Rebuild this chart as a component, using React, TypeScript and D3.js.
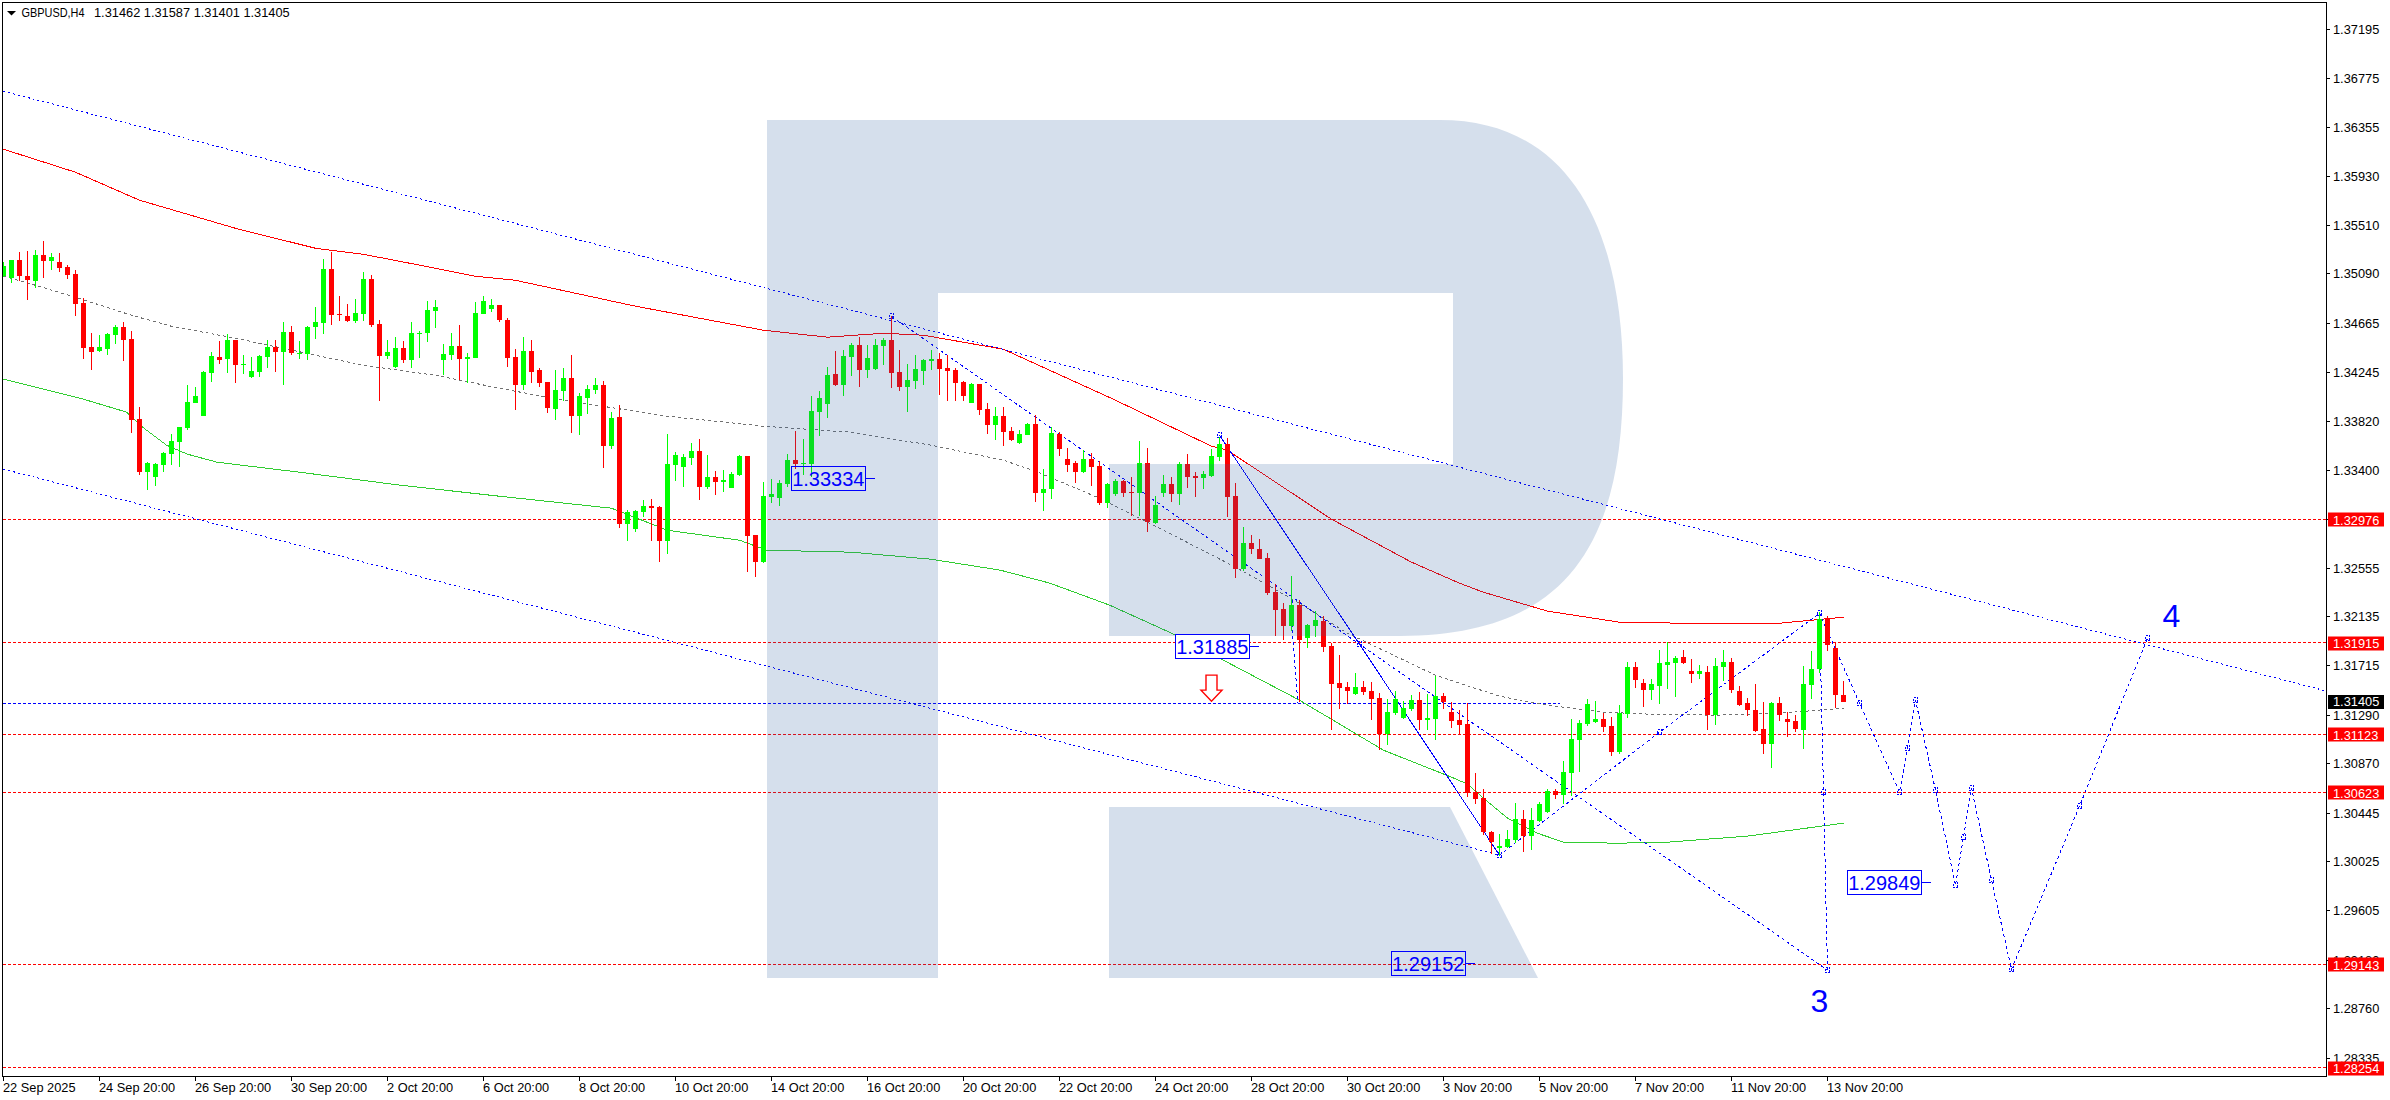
import * as d3 from "d3";

const opens = [
  1.35071,1.35059,1.35208,1.35071,1.35028,1.35251,1.35200,1.35191,1.35148,1.35088,
  1.34838,1.34459,1.34425,1.34442,1.34563,1.34632,1.34528,1.33839,1.33383,1.33340,
  1.33443,1.33538,1.33641,1.33762,1.33977,1.33865,1.34235,1.34373,1.34356,1.34520,
  1.34304,1.34201,1.34244,1.34373,1.34459,1.34416,1.34588,1.34399,1.34399,1.34632,
  1.34666,1.35131,1.34743,1.34726,1.34683,1.34743,1.35045,1.34657,1.34382,1.34287,
  1.34451,1.34347,1.34571,1.34580,1.34769,1.34347,1.34390,1.34468,1.34356,1.34365,
  1.34743,1.34787,1.34821,1.34692,1.34373,1.34132,1.34425,1.34261,1.34158,1.33925,
  1.34080,1.34192,1.33865,1.34020,1.34089,1.34132,1.33607,1.33856,1.32935,1.32892,
  1.33038,1.33090,1.33082,1.32789,1.33443,1.33426,1.33503,1.33564,1.33254,1.33340,
  1.33297,1.33245,1.33357,1.33521,1.32840,1.32608,1.33168,1.33159,1.33280,1.33486,
  1.33452,1.33452,1.33899,1.33968,1.34227,1.34132,1.34373,1.34476,1.34261,1.34270,
  1.34468,1.34519,1.34244,1.34115,1.34166,1.34252,1.34339,1.34356,1.34278,1.34261,
  1.34158,1.33977,1.34141,1.33925,1.33788,1.33864,1.33735,1.33632,1.33701,1.33795,
  1.33201,1.33236,1.33709,1.33494,1.33460,1.33382,1.33494,1.33434,1.33115,1.33193,
  1.33305,1.33210,1.33201,1.33460,1.32943,1.33201,1.33279,1.33193,1.33451,1.33348,
  1.33330,1.33348,1.33511,1.33623,1.33175,1.32547,1.32771,1.32719,1.32642,1.32349,
  1.32203,1.32056,1.32237,1.31953,1.32056,1.32099,1.31884,1.31565,1.31531,1.31471,
  1.31531,1.31496,1.31436,1.31126,1.31307,1.31264,1.31342,1.31419,1.31247,1.31255,
  1.31453,1.31316,1.31247,1.31212,1.30626,1.30575,1.30282,1.30144,1.30153,1.30213,
  1.30394,1.30248,1.30377,1.30454,1.30635,1.30601,1.30790,1.31074,1.31212,1.31229,
  1.31255,1.31195,1.30971,1.31298,1.31703,1.31565,1.31505,1.31539,1.31720,1.31737,
  1.31789,1.31668,1.31642,1.31660,1.31289,1.31703,1.31746,1.31496,1.31393,1.31332,
  1.31169,1.31040,1.31393,1.31255,1.31238,1.31160,1.31548,1.31686,1.32125,1.31866,1.31462,
];
const highs = [
  1.35191,1.35208,1.35277,1.35286,1.35294,1.35372,1.35269,1.35269,1.35165,1.35122,
  1.34881,1.34580,1.34563,1.34580,1.34649,1.34675,1.34597,1.33943,1.33469,1.33461,
  1.33555,1.33710,1.33771,1.34132,1.34115,1.34253,1.34416,1.34511,1.34571,1.34520,
  1.34390,1.34373,1.34390,1.34520,1.34520,1.34675,1.34640,1.34511,1.34640,1.34804,
  1.35217,1.35277,1.34898,1.34830,1.34873,1.35105,1.35079,1.34692,1.34520,1.34545,
  1.34511,1.34675,1.34597,1.34855,1.34864,1.34485,1.34580,1.34649,1.34408,1.34847,
  1.34898,1.34873,1.34821,1.34709,1.34442,1.34545,1.34519,1.34278,1.34158,1.34261,
  1.34278,1.34390,1.34063,1.34132,1.34192,1.34166,1.33899,1.33960,1.33056,1.33056,
  1.33142,1.33150,1.33090,1.33710,1.33555,1.33538,1.33633,1.33667,1.33529,1.33391,
  1.33400,1.33383,1.33529,1.33521,1.32840,1.33297,1.33323,1.33314,1.33538,1.33736,
  1.33667,1.34037,1.34080,1.34287,1.34425,1.34433,1.34494,1.34545,1.34476,1.34528,
  1.34537,1.34726,1.34433,1.34313,1.34390,1.34356,1.34433,1.34407,1.34390,1.34278,
  1.34166,1.34149,1.34141,1.33977,1.33943,1.33942,1.33770,1.33744,1.33804,1.33873,
  1.33408,1.33770,1.33726,1.33589,1.33477,1.33571,1.33546,1.33477,1.33287,1.33322,
  1.33313,1.33339,1.33649,1.33589,1.33175,1.33356,1.33339,1.33468,1.33537,1.33382,
  1.33391,1.33580,1.33683,1.33675,1.33287,1.32909,1.32840,1.32805,1.32685,1.32418,
  1.32254,1.32487,1.32280,1.32073,1.32185,1.32142,1.31910,1.31806,1.31574,1.31651,
  1.31583,1.31574,1.31479,1.31428,1.31496,1.31410,1.31462,1.31488,1.31471,1.31626,
  1.31479,1.31402,1.31333,1.31393,1.30790,1.30652,1.30291,1.30265,1.30299,1.30532,
  1.30471,1.30489,1.30540,1.30652,1.30652,1.30893,1.31255,1.31246,1.31427,1.31410,
  1.31307,1.31272,1.31376,1.31746,1.31746,1.31599,1.31599,1.31849,1.31918,1.31797,
  1.31849,1.31772,1.31720,1.31711,1.31780,1.31849,1.31780,1.31539,1.31436,1.31556,
  1.31401,1.31401,1.31444,1.31315,1.31289,1.31711,1.31840,1.32176,1.32142,1.31918,1.31587,
];
const lows = [
  1.35065,1.35013,1.35030,1.34864,1.34970,1.35053,1.35122,1.35105,1.35045,1.34726,
  1.34356,1.34261,1.34416,1.34390,1.34485,1.34339,1.33719,1.33357,1.33228,1.33263,
  1.33383,1.33443,1.33426,1.33745,1.33977,1.33865,1.34158,1.34313,1.34235,1.34149,
  1.34227,1.34192,1.34201,1.34279,1.34244,1.34132,1.34390,1.34356,1.34347,1.34528,
  1.34571,1.34649,1.34683,1.34675,1.34666,1.34683,1.34632,1.33994,1.34356,1.34279,
  1.34322,1.34279,1.34365,1.34502,1.34623,1.34218,1.34347,1.34175,1.34149,1.34365,
  1.34743,1.34761,1.34675,1.34287,1.33917,1.34089,1.34149,1.34115,1.33891,1.33831,
  1.33994,1.33719,1.33701,1.33882,1.34054,1.33417,1.33581,1.32901,1.32789,1.32866,
  1.32995,1.32789,1.32608,1.32677,1.33305,1.33254,1.33443,1.33142,1.33237,1.33185,
  1.33211,1.33245,1.33348,1.32522,1.32479,1.32599,1.33116,1.33090,1.33254,1.33409,
  1.33357,1.33343,1.33693,1.33848,1.34123,1.34037,1.34209,1.34115,1.34192,1.34261,
  1.34304,1.34106,1.34080,1.33899,1.34098,1.34132,1.34261,1.34046,1.33994,1.33994,
  1.33994,1.33977,1.33874,1.33710,1.33658,1.33606,1.33649,1.33623,1.33701,1.33124,
  1.33046,1.33150,1.33520,1.33382,1.33287,1.33373,1.33262,1.33098,1.33072,1.33175,
  1.33167,1.33003,1.33003,1.32865,1.32934,1.33167,1.33124,1.33098,1.33244,1.33167,
  1.33236,1.33339,1.33477,1.32995,1.32469,1.32530,1.32676,1.32633,1.32323,1.31970,
  1.31936,1.32013,1.31405,1.31867,1.31961,1.31832,1.31161,1.31342,1.31385,1.31462,
  1.31462,1.31247,1.30988,1.31032,1.31290,1.31255,1.31324,1.31161,1.31161,1.31075,
  1.31342,1.31178,1.31118,1.30583,1.30523,1.30256,1.30093,1.30075,1.30144,1.30187,
  1.30110,1.30127,1.30368,1.30446,1.30566,1.30523,1.30592,1.30799,1.31195,1.31221,
  1.31143,1.30936,1.30954,1.31264,1.31522,1.31358,1.31419,1.31384,1.31513,1.31444,
  1.31729,1.31565,1.31599,1.31160,1.31203,1.31582,1.31479,1.31367,1.31281,1.31143,
  1.30954,1.30833,1.31238,1.31100,1.31143,1.30997,1.31427,1.31651,1.31840,1.31350,1.31401,
];
const closes = [
  1.35157,1.35208,1.35071,1.35036,1.35251,1.35200,1.35234,1.35140,1.35079,1.34830,
  1.34451,1.34416,1.34459,1.34571,1.34632,1.34520,1.33831,1.33383,1.33461,1.33452,
  1.33547,1.33650,1.33771,1.33986,1.34037,1.34244,1.34382,1.34347,1.34520,1.34304,
  1.34313,1.34253,1.34382,1.34459,1.34416,1.34588,1.34408,1.34408,1.34632,1.34675,
  1.35131,1.34735,1.34735,1.34683,1.34752,1.35045,1.34649,1.34382,1.34416,1.34451,
  1.34347,1.34580,1.34580,1.34778,1.34804,1.34399,1.34468,1.34356,1.34373,1.34752,
  1.34855,1.34821,1.34692,1.34364,1.34132,1.34425,1.34244,1.34149,1.33934,1.34089,
  1.34192,1.33865,1.34037,1.34098,1.34132,1.33607,1.33848,1.32935,1.33038,1.33047,
  1.33090,1.33073,1.32789,1.33452,1.33529,1.33512,1.33564,1.33254,1.33340,1.33297,
  1.33314,1.33366,1.33521,1.32832,1.32608,1.33176,1.33193,1.33288,1.33486,1.33452,
  1.33460,1.33908,1.34020,1.34218,1.34132,1.34382,1.34476,1.34261,1.34364,1.34476,
  1.34519,1.34235,1.34115,1.34175,1.34270,1.34347,1.34356,1.34270,1.34252,1.34149,
  1.34037,1.34141,1.33917,1.33788,1.33865,1.33726,1.33658,1.33709,1.33795,1.33201,
  1.33236,1.33718,1.33580,1.33442,1.33382,1.33494,1.33425,1.33115,1.33279,1.33305,
  1.33201,1.33201,1.33460,1.32952,1.33098,1.33279,1.33193,1.33451,1.33339,1.33330,
  1.33365,1.33520,1.33623,1.33167,1.32547,1.32771,1.32719,1.32633,1.32340,1.32194,
  1.32056,1.32237,1.31936,1.32065,1.32108,1.31875,1.31557,1.31522,1.31496,1.31531,
  1.31488,1.31428,1.31126,1.31316,1.31428,1.31350,1.31419,1.31247,1.31264,1.31453,
  1.31402,1.31238,1.31204,1.30618,1.30566,1.30282,1.30196,1.30162,1.30222,1.30394,
  1.30248,1.30385,1.30523,1.30635,1.30601,1.30799,1.31083,1.31221,1.31384,1.31255,
  1.31186,1.30971,1.31307,1.31703,1.31591,1.31505,1.31556,1.31737,1.31746,1.31780,
  1.31737,1.31642,1.31668,1.31289,1.31711,1.31746,1.31505,1.31376,1.31332,1.31152,
  1.31040,1.31393,1.31289,1.31229,1.31169,1.31556,1.31686,1.32116,1.31892,1.31462,1.31405,
];

// envelope bands, read at selected bars
const upperBars = [0,9,17,29,39,45,54,59,64,79,95,103,110,115,125,139,151,153,159,166,176,182,185,193,202,210,222,230];
const upperBand = [1.36164,1.35966,1.35725,1.35483,1.35311,1.35259,1.35139,1.35070,1.35035,1.34812,1.34605,1.34545,1.34579,1.34562,1.34441,1.34002,1.33606,1.33571,1.33296,1.32977,1.32607,1.32426,1.32348,1.32185,1.32090,1.32081,1.32081,1.32133];
const middleBars = [0,4,9,16,21,29,39,45,54,62,70,83,95,106,116,125,129,137,145,154,162,168,179,187,193,200,206,214,222,230];
const middleBand = [1.35070,1.34992,1.34889,1.34734,1.34639,1.34536,1.34390,1.34303,1.34217,1.34105,1.34002,1.33864,1.33778,1.33726,1.33614,1.33485,1.33390,1.33158,1.32882,1.32564,1.32253,1.31995,1.31633,1.31452,1.31375,1.31315,1.31297,1.31289,1.31306,1.31349];
const lowerBars = [0,9.6,15.4,17.4,20.4,23,26.7,37,49.6,62,76,83,92,95.4,106,116,124.6,130.8,138.3,146,152,162,172.5,181,183,185,188,191.7,195,201.7,208,218,230];
const lowerBand = [1.34183,1.34019,1.33899,1.33769,1.33614,1.33537,1.33468,1.33382,1.33270,1.33175,1.33072,1.32882,1.32796,1.32710,1.32693,1.32632,1.32538,1.32426,1.32236,1.31995,1.31780,1.31418,1.30987,1.30755,1.30695,1.30574,1.30402,1.30273,1.30195,1.30186,1.30195,1.30247,1.30359];

// channel and wave drawing objects
const channelTop = { bars: [0, 290.4], prices: [1.36663, 1.31496] };
const channelBottom = { bars: [0, 187], prices: [1.33408, 1.30083] };
const impulseBars = [152, 169.5, 187];
const impulsePrices = [1.33701, 1.31900, 1.30083];
const trendBars = [111, 169.5, 228];
const trendPrices = [1.34725, 1.31900, 1.29093];
const riseBars = [187, 207, 227];
const risePrices = [1.30083, 1.31142, 1.32167];
const dropBars = [227, 227.5, 228];
const dropPrices = [1.32167, 1.30626, 1.29093];
const stemBars = [161, 161.2, 161.8];
const stemPrices = [1.32486, 1.31915, 1.31392];
const waveBars = [227, 232, 237, 238, 239, 241.5, 244, 245, 246, 248.5, 251, 259.5, 268];
const wavePrices = [1.32167, 1.31392, 1.30626, 1.31005, 1.31418, 1.30643, 1.29825, 1.30238, 1.30660, 1.29868, 1.29100, 1.30505, 1.31952];

const redLevels = [1.32976, 1.31915, 1.31123, 1.30623, 1.29143, 1.28254];
const blueLevel = 1.3139;
const blueLevelEnd = 194.6;
const lastPrice = 1.31405;
const priceTicks = [1.37195,1.36775,1.36355,1.3593,1.3551,1.3509,1.34665,1.34245,1.3382,1.334,1.32975,1.32555,1.32135,1.31715,1.3129,1.3087,1.30445,1.30025,1.29605,1.2918,1.2876,1.28335];
const timeLabels = ["22 Sep 2025","24 Sep 20:00","26 Sep 20:00","30 Sep 20:00","2 Oct 20:00","6 Oct 20:00","8 Oct 20:00","10 Oct 20:00","14 Oct 20:00","16 Oct 20:00","20 Oct 20:00","22 Oct 20:00","24 Oct 20:00","28 Oct 20:00","30 Oct 20:00","3 Nov 20:00","5 Nov 20:00","7 Nov 20:00","11 Nov 20:00","13 Nov 20:00"];
const priceLabels = [
  { price: 1.33334, bar: 103.1 },
  { price: 1.31885, bar: 151.1 },
  { price: 1.29849, bar: 235.1 },
  { price: 1.29152, bar: 178.1 },
];
const waveNames = [
  { name: "3", bar: 227, price: 1.28732 },
  { name: "4", bar: 271, price: 1.32049 },
];

const W = 2390;
const H = 1100;
const left = 2.5;
const right = 2326.5;
const top = 2.5;
const bottom = 1076.5;
const FONT = "'Liberation Sans', Arial, sans-serif";
const BLUE = "#0000ff";

const x = d3.scaleLinear().domain([0, 1]).range([3.5, 11.5]);
const y = d3.scaleLinear().domain([1.31915, 1.28254]).range([642.5, 1067.5]);

const pathOf = (bars: number[], prices: number[]) =>
  d3.line<number>().x((b) => x(b)).y((_, i) => y(prices[i]))(bars) as string;

const Wave = ({ bars, prices, dash = "3 3", boxes = true }: { bars: number[]; prices: number[]; dash?: string; boxes?: boolean }) => (
  <g fill="none" stroke={BLUE}>
    <path d={pathOf(bars, prices)} strokeDasharray={dash} />
    {boxes && bars.map((b, i) => (
      <rect key={i} x={Math.round(x(b)) - 2.5} y={Math.round(y(prices[i])) - 2.5} width={4} height={5} strokeDasharray="2 1" />
    ))}
  </g>
);

export default function App() {
  return (
    <svg width={W} height={H} viewBox={`0 0 ${W} ${H}`} style={{ position: "fixed", left: 0, top: 0, background: "#fff" }} fontFamily={FONT}>
      <defs>
        <clipPath id="plot">
          <rect x={left + 0.5} y={top + 0.5} width={right - left - 1} height={bottom - top - 1} />
        </clipPath>
      </defs>

      <g clipPath="url(#plot)" shapeRendering="crispEdges" fill="none">
        {redLevels.map((p) => (
          <line key={p} x1={left} x2={right} y1={y(p)} y2={y(p)} stroke="#ff0000" strokeDasharray="3 2" />
        ))}
        <line x1={left} x2={x(blueLevelEnd)} y1={y(blueLevel)} y2={y(blueLevel)} stroke={BLUE} strokeDasharray="3 2" />

        <path d={pathOf(upperBars, upperBand)} stroke="#ff0000" />
        <path d={pathOf(middleBars, middleBand)} stroke="#707070" strokeDasharray="3 3" />
        <path d={pathOf(lowerBars, lowerBand)} stroke="#32cd32" />

        <path d={pathOf(channelTop.bars, channelTop.prices)} stroke={BLUE} strokeDasharray="2 3" />
        <path d={pathOf(channelBottom.bars, channelBottom.prices)} stroke={BLUE} strokeDasharray="2 3" />
        <Wave bars={impulseBars} prices={impulsePrices} dash="none" />
        <Wave bars={trendBars} prices={trendPrices} />
        <Wave bars={riseBars} prices={risePrices} />
        <Wave bars={dropBars} prices={dropPrices} />
        <Wave bars={stemBars} prices={stemPrices} boxes={false} />
        <Wave bars={waveBars} prices={wavePrices} />

        {opens.map((o, i) => {
          const c = closes[i];
          const col = c >= o ? "#00ff00" : "#ff0000";
          const bodyTop = y(Math.max(o, c));
          const cx = x(i);
          return (
            <g key={i} fill={col}>
              <rect x={cx - 0.5} y={y(highs[i])} width={1} height={Math.max(1, y(lows[i]) - y(highs[i]))} />
              <rect x={cx - 2.5} y={bodyTop} width={5} height={Math.max(1, y(Math.min(o, c)) - bodyTop)} />
            </g>
          );
        })}

        <path
          d={`M${x(151) - 5.5},${y(1.3141) - 26} h11 v15 h5 l-10.5,11 l-10.5,-11 h5 z`}
          fill="#fff"
          stroke="#ff0000"
          shapeRendering="auto"
          strokeWidth={1.4}
        />
      </g>

      {/* brand mark lies over the chart */}
      <g fill="rgb(46,96,160)" fillOpacity={0.2}>
        <path d="M767,120 H1440 C1570,120 1623,230 1623,378 C1623,540 1570,636 1400,636 H1109 V464 H1453 V293 H938 V978 H767 Z" />
        <path d="M1109,807 H1450 L1538,978 H1109 Z" />
      </g>

      {priceLabels.map((d, i) => {
        const cx = x(d.bar);
        const cy = Math.round(y(d.price)) + 0.5;
        return (
          <g key={d.price}>
            <rect x={cx - 37} y={cy - 12} width={74} height={24} fill={i === 1 ? "#fff" : "none"} stroke={BLUE} strokeWidth={1} shapeRendering="crispEdges" />
            <line x1={cx + 37} x2={cx + 47} y1={cy} y2={cy} stroke={BLUE} shapeRendering="crispEdges" />
            <text x={cx} y={cy + 7} textAnchor="middle" fontSize={20} fill={BLUE}>{d.price.toFixed(5)}</text>
          </g>
        );
      })}
      {waveNames.map((d) => (
        <text key={d.name} x={x(d.bar)} y={y(d.price)} textAnchor="middle" fontSize={32} fill={BLUE}>{d.name}</text>
      ))}

      <path d={`M${left},${bottom} V${top} H${right} V${bottom} H${left}`} fill="none" stroke="#000" strokeWidth={1.5} shapeRendering="crispEdges" />

      <path d="M7,11 h9 l-4.5,4.5 z" fill="#000" />
      <text x={21.5} y={17} fontSize={12.4} textLength={63} lengthAdjust="spacingAndGlyphs" fill="#000">GBPUSD,H4</text>
      <text x={94} y={17} fontSize={12.8} fill="#000">1.31462 1.31587 1.31401 1.31405</text>

      {timeLabels.map((t, i) => {
        const tx = x(i * 12);
        return (
          <g key={t}>
            <line x1={tx} x2={tx} y1={bottom} y2={bottom + 4} stroke="#000" shapeRendering="crispEdges" />
            <text x={tx - 0.5} y={1092} fontSize={12.8} fill="#000">{t}</text>
          </g>
        );
      })}

      {priceTicks.map((p) => (
        <g key={p}>
          <line x1={right} x2={right + 3} y1={y(p)} y2={y(p)} stroke="#000" shapeRendering="crispEdges" />
          <text x={2333} y={y(p) + 4.5} fontSize={12.8} fill="#000">{p.toFixed(5)}</text>
        </g>
      ))}
      {redLevels.map((p) => (
        <g key={p}>
          <rect x={2328} y={Math.round(y(p)) - 6.5} width={56} height={14} fill="#ff0000" />
          <text x={2333} y={y(p) + 5.5} fontSize={12.8} fill="#fff">{p.toFixed(5)}</text>
        </g>
      ))}
      <rect x={2328} y={Math.round(y(lastPrice)) - 7} width={56} height={14} fill="#000" />
      <text x={2333} y={y(lastPrice) + 4.5} fontSize={12.8} fill="#fff">{lastPrice.toFixed(5)}</text>
    </svg>
  );
}
